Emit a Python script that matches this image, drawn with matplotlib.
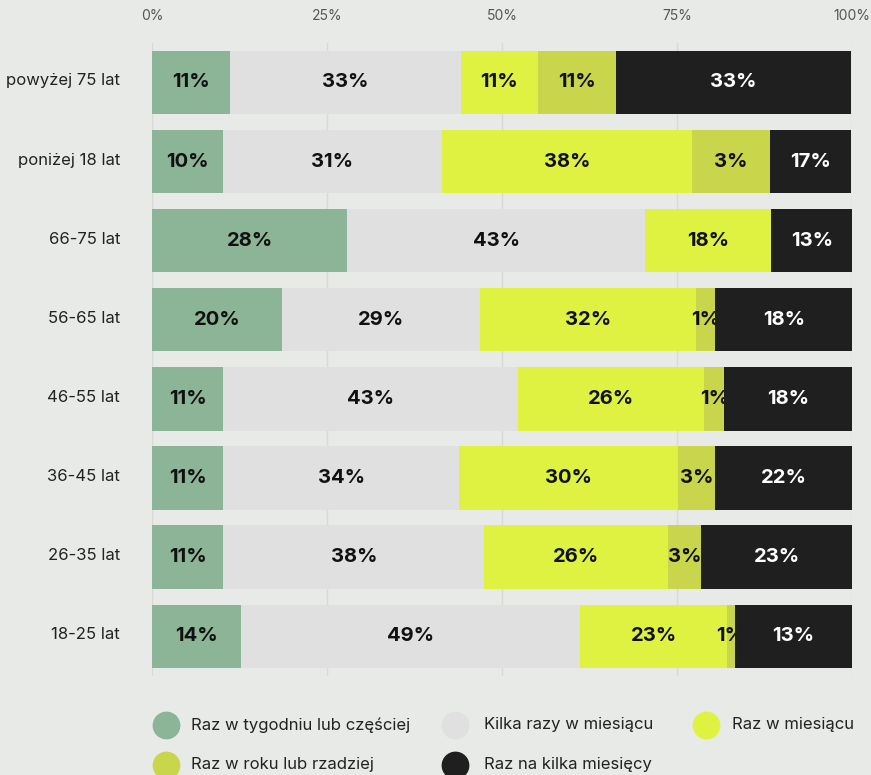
import matplotlib
matplotlib.use("Agg")
import matplotlib.pyplot as plt
import matplotlib.transforms as mtransforms
from matplotlib.lines import Line2D
import numpy as np

plt.rcParams['font.family'] = ['Inter', 'DejaVu Sans']

categories = ["powyżej 75 lat", "poniżej 18 lat", "66-75 lat", "56-65 lat",
              "46-55 lat", "36-45 lat", "26-35 lat", "18-25 lat"]
series_names = ["Raz w tygodniu lub częściej", "Kilka razy w miesiącu", "Raz w miesiącu",
                "Raz w roku lub rzadziej", "Raz na kilka miesięcy"]

# segment widths (%)
weekly = [11.1, 10.1, 27.9, 18.6, 10.2, 10.2, 10.2, 12.7]
few_month = [33.0, 31.4, 42.6, 28.3, 42.1, 33.7, 37.3, 48.5]
monthly = [11.1, 35.7, 18.0, 30.9, 26.6, 31.2, 26.3, 21.0]
yearly = [11.1, 11.1, 0.0, 2.7, 2.9, 5.4, 4.6, 1.1]
few_months = [33.6, 11.6, 11.6, 19.6, 18.3, 19.6, 21.7, 16.7]

# printed labels (%)
weekly_lbl = [11, 10, 28, 20, 11, 11, 11, 14]
few_month_lbl = [33, 31, 43, 29, 43, 34, 38, 49]
monthly_lbl = [11, 38, 18, 32, 26, 30, 26, 23]
yearly_lbl = [11, 3, None, 1, 1, 3, 3, 1]
few_months_lbl = [33, 17, 13, 18, 18, 22, 23, 13]

xticks = [0, 25, 50, 75, 100]
xtick_labels = ["0%", "25%", "50%", "75%", "100%"]

colors = ["#8bb596", "#e0e0e0", "#e0f241", "#c9d64c", "#1f1f1f"]
text_colors = ["#111111", "#111111", "#111111", "#111111", "#ffffff"]
bg = "#e8eae7"

W, H = 871, 775
fig = plt.figure(figsize=(W / 100, H / 100), dpi=100, facecolor=bg)
ax = fig.add_axes([0.1745, 0.128, 0.8035, 0.8167], facecolor=bg)

y = np.arange(len(categories))
data = [weekly, few_month, monthly, yearly, few_months]
labels = [weekly_lbl, few_month_lbl, monthly_lbl, yearly_lbl, few_months_lbl]
left = np.zeros(len(categories))
for i, (vals, lbls) in enumerate(zip(data, labels)):
    vals = np.array(vals)
    ax.barh(y, vals, left=left, height=0.8, color=colors[i], zorder=2 + 2 * i, linewidth=0)
    for j, (v, l) in enumerate(zip(vals, lbls)):
        if l is None:
            continue
        ax.text(left[j] + v / 2, y[j], f"{l}%", ha="center", va="center",
                fontsize=14.5, fontweight="bold", color=text_colors[i], zorder=3 + 2 * i)
    left += vals

ax.set_xlim(0, 100)
ax.set_ylim(len(categories) - 0.5, -0.5)
ax.set_yticks(y)
ax.set_yticklabels(categories, fontsize=12, color="#222222")
ax.set_xticks(xticks)
ax.set_xticklabels(xtick_labels, fontsize=10, color="#555555")
ax.xaxis.tick_top()
ax.tick_params(axis="both", length=0)
ax.tick_params(axis="x", pad=14)
ax.tick_params(axis="y", pad=23)
shift = mtransforms.ScaledTranslation(0, 3 / 100, fig.dpi_scale_trans)
for lab in ax.get_yticklabels():
    lab.set_transform(lab.get_transform() + shift)
ax.grid(axis="x", color="#d8dad6", linewidth=1, zorder=0)
ax.set_axisbelow(True)
for s in ax.spines.values():
    s.set_visible(False)

# legend laid out manually (pixel positions of marker centres and text starts)
leg_order = [0, 1, 2, 3, 4]
leg_marker_x = [166, 455, 706, 166, 455]
leg_text_x = [191, 484, 732, 191, 484]
leg_y = [725, 725, 725, 765, 765]
for k, mx, tx, ly in zip(leg_order, leg_marker_x, leg_text_x, leg_y):
    fig.add_artist(Line2D([mx / W], [1 - ly / H], marker="o", linestyle="none",
                          markersize=19, markerfacecolor=colors[k], markeredgecolor=colors[k],
                          transform=fig.transFigure))
    fig.text(tx / W, 1 - ly / H, series_names[k], ha="left", va="center",
             fontsize=12, color="#222222")

fig.savefig("out.png", dpi=100, facecolor=bg)
